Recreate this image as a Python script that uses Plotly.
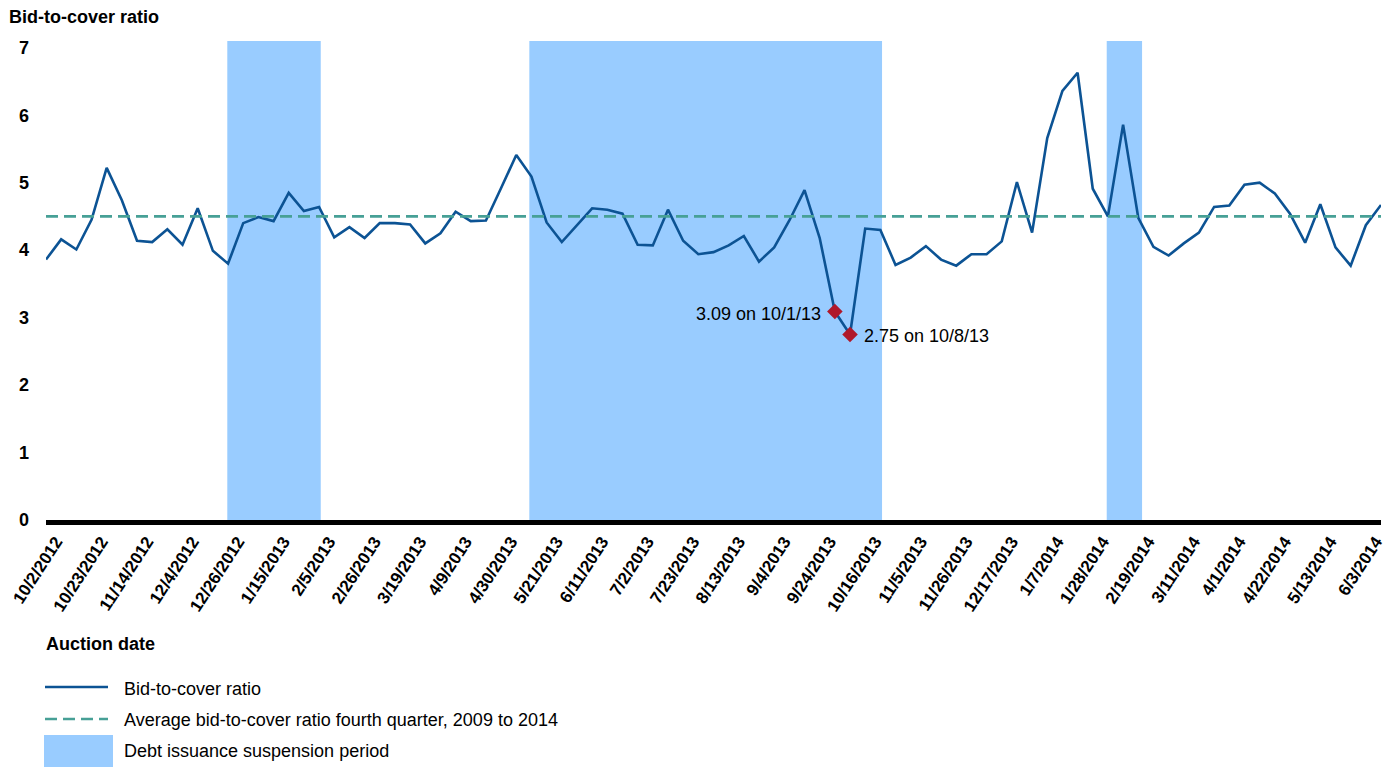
import plotly.graph_objects as go

# weekly auction dates (Oct 2012 - Jun 2014)
dates = [
	"10/2/2012", "10/9/2012", "10/16/2012", "10/23/2012", "10/30/2012", "11/6/2012",
	"11/14/2012", "11/20/2012", "11/27/2012", "12/4/2012", "12/11/2012", "12/18/2012",
	"12/26/2012", "1/2/2013", "1/8/2013", "1/15/2013", "1/22/2013", "1/29/2013",
	"2/5/2013", "2/12/2013", "2/20/2013", "2/26/2013", "3/5/2013", "3/12/2013",
	"3/19/2013", "3/26/2013", "4/2/2013", "4/9/2013", "4/16/2013", "4/23/2013",
	"4/30/2013", "5/7/2013", "5/14/2013", "5/21/2013", "5/29/2013", "6/4/2013",
	"6/11/2013", "6/18/2013", "6/25/2013", "7/2/2013", "7/9/2013", "7/16/2013",
	"7/23/2013", "7/30/2013", "8/6/2013", "8/13/2013", "8/20/2013", "8/27/2013",
	"9/4/2013", "9/10/2013", "9/17/2013", "9/24/2013", "10/1/2013", "10/8/2013",
	"10/16/2013", "10/22/2013", "10/29/2013", "11/5/2013", "11/13/2013", "11/19/2013",
	"11/26/2013", "12/3/2013", "12/10/2013", "12/17/2013", "12/24/2013", "12/31/2013",
	"1/7/2014", "1/14/2014", "1/21/2014", "1/28/2014", "2/4/2014", "2/11/2014",
	"2/19/2014", "2/25/2014", "3/4/2014", "3/11/2014", "3/18/2014", "3/25/2014",
	"4/1/2014", "4/8/2014", "4/15/2014", "4/22/2014", "4/29/2014", "5/6/2014",
	"5/13/2014", "5/20/2014", "5/27/2014", "6/3/2014", "6/10/2014",
]

ratio = [
	3.86, 4.16, 4.01, 4.45, 5.22, 4.74, 4.14, 4.12, 4.31, 4.08,
	4.62, 3.99, 3.80, 4.40, 4.49, 4.43, 4.85, 4.58, 4.64, 4.19,
	4.34, 4.18, 4.40, 4.40, 4.38, 4.10, 4.25, 4.57, 4.43, 4.44,
	4.92, 5.41, 5.09, 4.41, 4.12, 4.37, 4.62, 4.60, 4.54, 4.08,
	4.07, 4.60, 4.14, 3.94, 3.97, 4.07, 4.21, 3.83, 4.04, 4.44,
	4.89, 4.18, 3.09, 2.75, 4.32, 4.30, 3.78, 3.89, 4.06, 3.86,
	3.77, 3.94, 3.94, 4.13, 5.01, 4.26, 5.66, 6.36, 6.63, 4.91,
	4.50, 5.86, 4.48, 4.05, 3.92, 4.10, 4.26, 4.64, 4.66, 4.97,
	5.00, 4.84, 4.54, 4.11, 4.68, 4.04, 3.77, 4.37, 4.67,
]

tick_labels = [
	"10/2/2012", "10/23/2012", "11/14/2012", "12/4/2012", "12/26/2012", "1/15/2013",
	"2/5/2013", "2/26/2013", "3/19/2013", "4/9/2013", "4/30/2013", "5/21/2013",
	"6/11/2013", "7/2/2013", "7/23/2013", "8/13/2013", "9/4/2013", "9/24/2013",
	"10/16/2013", "11/5/2013", "11/26/2013", "12/17/2013", "1/7/2014", "1/28/2014",
	"2/19/2014", "3/11/2014", "4/1/2014", "4/22/2014", "5/13/2014", "6/3/2014",
]

avg_q4 = 4.5

# suspension periods, in auction-week position on the category axis
suspension_start = [11.95, 31.86, 69.92]
suspension_end = [18.11, 55.11, 72.25]

lowest = ["10/1/2013", "10/8/2013"]
lowest_text = ["10/1/13", "10/8/13"]

LINE = "#0C5394"
AVG = "#47A096"
BAND = "#99CCFF"
RED = "#B0182A"
FONT = "Liberation Sans, Arial, sans-serif"

W, H = 1391, 768
ML, MR, MT, MB = 46, 10, 41, 248

def px(x):
	return (x - ML) / (W - ML - MR)

def py(y):
	return (H - MB - y) / (H - MT - MB)

fig = go.Figure()

fig.add_trace(go.Scatter(
	x=dates, y=ratio, mode="lines",
	line=dict(color=LINE, width=2.6),
	name="Bid-to-cover ratio", showlegend=False,
))
fig.add_trace(go.Scatter(
	x=[dates[0], dates[-1]], y=[avg_q4, avg_q4], mode="lines",
	line=dict(color=AVG, width=2.6, dash="12px,6px"),
	name="Average bid-to-cover ratio fourth quarter, 2009 to 2014", showlegend=False,
))
low_vals = [ratio[dates.index(d)] for d in lowest]
fig.add_trace(go.Scatter(
	x=lowest, y=low_vals, mode="markers",
	marker=dict(symbol="diamond", size=12, color=RED),
	showlegend=False,
))

for x0, x1 in zip(suspension_start, suspension_end):
	fig.add_shape(type="rect", xref="x", yref="paper", x0=x0, x1=x1, y0=0, y1=1,
		fillcolor=BAND, line_width=0, layer="below")

fig.add_annotation(x=lowest[0], y=low_vals[0], text=f"{low_vals[0]:.2f} on {lowest_text[0]}",
	showarrow=False, xanchor="right", xshift=-12, yshift=-2, font=dict(size=18, color="black"))
fig.add_annotation(x=lowest[1], y=low_vals[1], text=f"{low_vals[1]:.2f} on {lowest_text[1]}",
	showarrow=False, xanchor="left", xshift=12, yshift=-2, font=dict(size=18, color="black"))

# axis titles
fig.add_annotation(xref="paper", yref="paper", x=px(7), y=py(17), text="<b>Bid-to-cover ratio</b>",
	showarrow=False, xanchor="left", yanchor="middle", font=dict(size=18, color="black"))
fig.add_annotation(xref="paper", yref="paper", x=px(44), y=py(644), text="<b>Auction date</b>",
	showarrow=False, xanchor="left", yanchor="middle", font=dict(size=18, color="black"))

# legend drawn under the axis
fig.add_shape(type="line", xref="paper", yref="paper", x0=px(45), x1=px(108), y0=py(687), y1=py(687),
	line=dict(color=LINE, width=2.6))
fig.add_shape(type="line", xref="paper", yref="paper", x0=px(45), x1=px(108), y0=py(719), y1=py(719),
	line=dict(color=AVG, width=2.6, dash="12px,6px"))
fig.add_shape(type="rect", xref="paper", yref="paper", x0=px(44), x1=px(113), y0=py(767), y1=py(735),
	fillcolor=BAND, line_width=0)
for yy, txt in [(689, "Bid-to-cover ratio"),
		(720, "Average bid-to-cover ratio fourth quarter, 2009 to 2014"),
		(751, "Debt issuance suspension period")]:
	fig.add_annotation(xref="paper", yref="paper", x=px(122), y=py(yy), text=txt,
		showarrow=False, xanchor="left", yanchor="middle", font=dict(size=18, color="black"))

fig.update_layout(
	width=W, height=H,
	margin=dict(l=ML, r=MR, t=MT, b=MB, pad=0, autoexpand=False),
	plot_bgcolor="white", paper_bgcolor="white",
	font=dict(family=FONT, color="black"),
	showlegend=False,
	xaxis=dict(
		type="category", range=[0, len(dates) - 1], automargin=False,
		tickmode="array", tickvals=tick_labels, ticktext=tick_labels,
		tickangle=-57, tickfont=dict(size=17, weight="bold", color="black"),
		ticklabelshift=10,
		showgrid=False, zeroline=False,
		showline=True, linecolor="black", linewidth=5, ticks="",
	),
	yaxis=dict(
		range=[0, 7.1], tickvals=[0, 1, 2, 3, 4, 5, 6, 7], automargin=False,
		tickfont=dict(size=18, weight="bold", color="black"),
		showgrid=False, zeroline=False, showline=False, ticks="",
		ticklabelstandoff=16,
	),
)

fig.write_html("out.html", config={"displayModeBar": False},
	post_script="document.body.style.margin='0';")
